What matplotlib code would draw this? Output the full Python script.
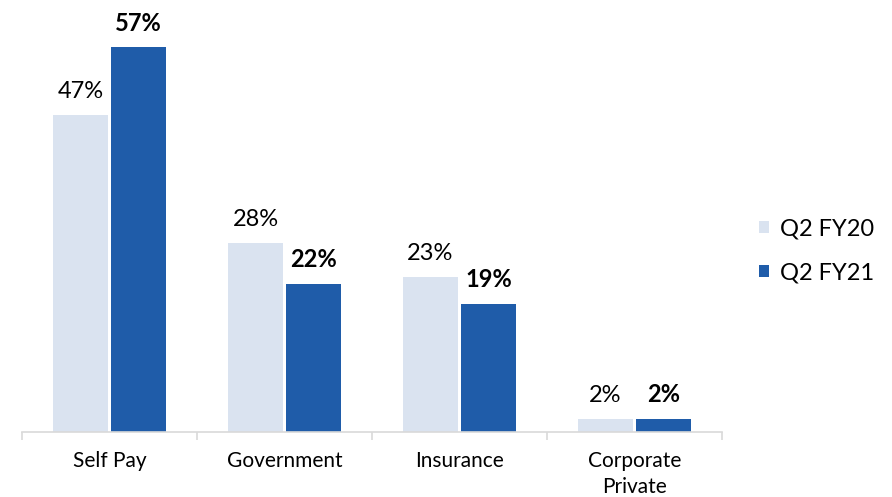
import numpy as np
import matplotlib.pyplot as plt

categories = ['Self Pay', 'Government', 'Insurance', 'Corporate\nPrivate']
fy20 = [47, 28, 23, 2]
fy21 = [57, 22, 19, 2]
series_names = ['Q2 FY20', 'Q2 FY21']

light = '#DAE3F0'
dark = '#1F5CA9'

plt.rcParams['font.family'] = ['Lato', 'DejaVu Sans']

fig = plt.figure(figsize=(8.92, 4.97), dpi=100)
ax = fig.add_axes([22/892, 65/497, 700/892, 405/497])

x = np.arange(len(categories))
w = 0.31
b1 = ax.bar(x - 0.166, fy20, w, color=light, label=series_names[0])
b2 = ax.bar(x + 0.166, fy21, w, color=dark, label=series_names[1])

for r, v in zip(b1, fy20):
    ax.annotate(f'{v}%', (r.get_x() + r.get_width()/2, v), xytext=(0, 9),
                textcoords='offset points', ha='center', va='bottom', fontsize=17)
for r, v in zip(b2, fy21):
    ax.annotate(f'{v}%', (r.get_x() + r.get_width()/2, v), xytext=(0, 9),
                textcoords='offset points', ha='center', va='bottom',
                fontsize=17, fontweight='bold')

ax.set_xlim(-0.5, len(categories) - 0.5)
ax.set_ylim(0, 60)
for s in ['top', 'right', 'left']:
    ax.spines[s].set_visible(False)
ax.spines['bottom'].set_color('#D9D9D9')
ax.spines['bottom'].set_linewidth(1.2)
ax.set_yticks([])
ax.set_xticks(np.arange(len(categories) + 1) - 0.5)
ax.set_xticklabels([])
ax.set_xticks(x, minor=True)
ax.set_xticklabels(categories, minor=True, fontsize=15, linespacing=1.35)
ax.tick_params(axis='x', which='major', length=6, width=1.2, color='#D9D9D9')
ax.tick_params(axis='x', which='minor', length=0, pad=14)

fig.legend(handles=[b1, b2], loc='center left', bbox_to_anchor=(738/892, 1 - 251/497),
           frameon=False, fontsize=17, handlelength=0.4, handleheight=0.4,
           handletextpad=0.5, labelspacing=0.95)

fig.savefig('out.png', dpi=100)
